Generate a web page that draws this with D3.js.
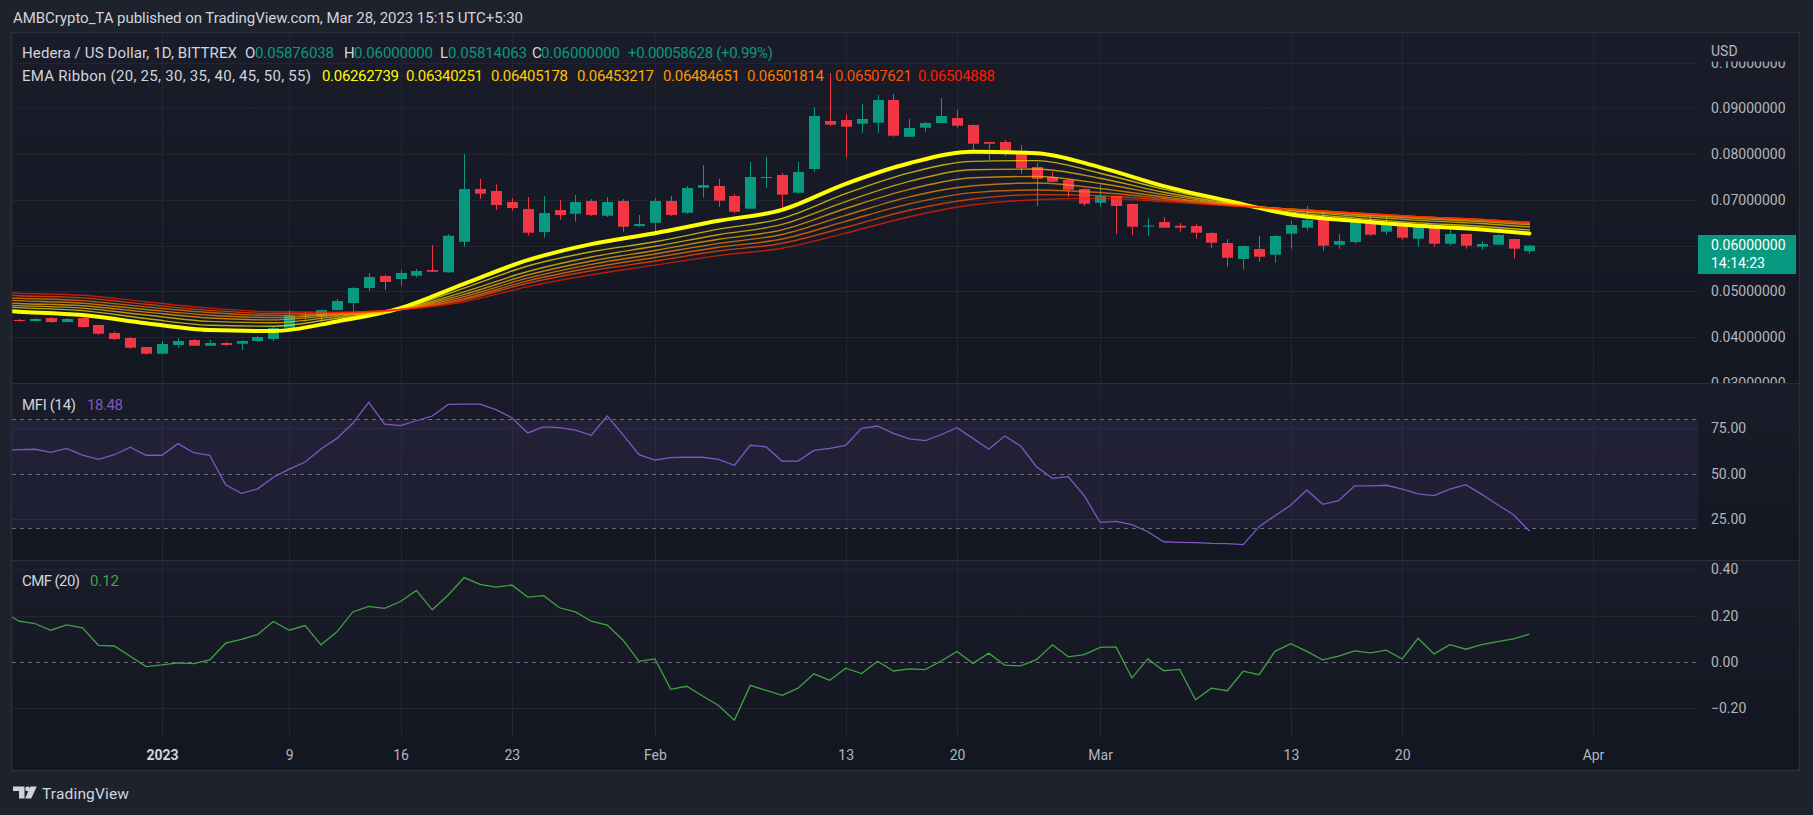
<!DOCTYPE html>
<html>
<head>
<meta charset="utf-8">
<script src="https://cdn.jsdelivr.net/npm/d3@7/dist/d3.min.js"></script>
<style>
html,body{margin:0;padding:0;background:#1e222d;overflow:hidden;}
svg{display:block;}
text{font-family:Roboto,"Noto Sans",Arial,sans-serif;}
</style>
</head>
<body>
<svg id="chart" width="1813" height="815"></svg>
<script>
// ---------------- DATA ----------------
const candleStart = "2022-12-23";   // first visible daily candle
const candleEnd = "2023-03-29";     // exclusive
const open = [
0.04371,0.04349,0.04414,0.04327,0.04414,0.04261,0.04086,0.03977,0.03780,0.03634,
0.03824,0.03933,0.03809,0.03868,0.03852,0.03911,0.03955,0.04202,0.04466,0.04458,
0.04589,0.04742,0.05071,0.05333,0.05267,0.05340,0.05464,0.05414,0.06083,0.07236,
0.07192,0.06951,0.06798,0.06295,0.06776,0.06695,0.06973,0.06652,0.06973,0.06426,
0.06499,0.06973,0.06717,0.07264,0.07301,0.07083,0.06805,0.07487,0.07542,0.07155,
0.07673,0.08723,0.08745,0.08664,0.08686,0.09182,0.08379,0.08576,0.08679,0.08788,
0.08635,0.08264,0.08264,0.08067,0.07717,0.07498,0.07432,0.07236,0.06936,0.07083,
0.06908,0.06426,0.06514,0.06433,0.06426,0.06273,0.06055,0.05705,0.05923,0.05799,
0.06258,0.06389,0.06608,0.06017,0.06077,0.06514,0.06302,0.06492,0.06149,0.06405,
0.06039,0.06252,0.05974,0.06017,0.06142,0.05876];
const high = [
0.04393,0.04414,0.04436,0.04414,0.04443,0.04272,0.04115,0.03999,0.03787,0.03911,
0.03977,0.03955,0.03933,0.03890,0.03933,0.04021,0.04240,0.04589,0.04552,0.04600,
0.04830,0.05093,0.05399,0.05355,0.05464,0.05486,0.06011,0.06245,0.08001,0.07454,
0.07338,0.07032,0.07061,0.07083,0.06995,0.07104,0.07017,0.07061,0.07017,0.06667,
0.07039,0.07083,0.07301,0.07761,0.07454,0.07126,0.07826,0.07935,0.07585,0.07826,
0.09029,0.09772,0.08876,0.09095,0.09291,0.09313,0.08767,0.08700,0.09226,0.08963,
0.08650,0.08270,0.08307,0.08198,0.07804,0.07607,0.07461,0.07250,0.07323,0.07090,
0.06920,0.06601,0.06623,0.06492,0.06470,0.06290,0.06142,0.06000,0.06208,0.06230,
0.06536,0.06864,0.06717,0.06252,0.06550,0.06674,0.06674,0.06500,0.06440,0.06448,
0.06367,0.06260,0.06098,0.06252,0.06150,0.06000];
const low = [
0.04327,0.04338,0.04305,0.04316,0.04202,0.04043,0.03933,0.03747,0.03612,0.03620,
0.03758,0.03800,0.03800,0.03802,0.03715,0.03900,0.03911,0.04202,0.04334,0.04334,
0.04580,0.04568,0.05005,0.05027,0.05114,0.05300,0.05420,0.05405,0.05974,0.07017,
0.06776,0.06761,0.06214,0.06171,0.06564,0.06520,0.06645,0.06623,0.06302,0.06411,
0.06252,0.06645,0.06695,0.07045,0.06842,0.06711,0.06805,0.07264,0.06820,0.07140,
0.07614,0.08613,0.07920,0.08467,0.08467,0.08379,0.08370,0.08489,0.08664,0.08576,
0.08051,0.07870,0.07957,0.07564,0.06864,0.07390,0.07061,0.06864,0.06849,0.06252,
0.06230,0.06214,0.06380,0.06302,0.06149,0.05952,0.05536,0.05471,0.05646,0.05624,
0.05930,0.06324,0.05886,0.05930,0.06039,0.06208,0.06230,0.06127,0.05974,0.05974,
0.05996,0.05930,0.05908,0.06010,0.05711,0.05814];
const close = [
0.04349,0.04393,0.04327,0.04393,0.04218,0.04071,0.03955,0.03765,0.03634,0.03846,
0.03911,0.03809,0.03868,0.03824,0.03911,0.03999,0.04196,0.04473,0.04473,0.04589,
0.04786,0.05071,0.05311,0.05202,0.05399,0.05442,0.05427,0.06214,0.07236,0.07133,
0.06886,0.06820,0.06280,0.06711,0.06667,0.06951,0.06667,0.06951,0.06411,0.06470,
0.06973,0.06667,0.07258,0.07323,0.06980,0.06739,0.07498,0.07498,0.07111,0.07607,
0.08832,0.08642,0.08598,0.08767,0.09182,0.08401,0.08570,0.08679,0.08832,0.08620,
0.08226,0.08226,0.08023,0.07695,0.07461,0.07395,0.07220,0.06914,0.07083,0.06864,
0.06411,0.06437,0.06389,0.06389,0.06280,0.06061,0.05733,0.05989,0.05755,0.06208,
0.06448,0.06558,0.05996,0.06098,0.06536,0.06236,0.06492,0.06171,0.06426,0.06039,
0.06252,0.05996,0.06033,0.06230,0.05930,0.06000];

// EMA ribbon, read at sample dates
const emaDates = ["2022-12-22","2022-12-23","2022-12-27","2022-12-31","2023-01-04","2023-01-08","2023-01-12",
"2023-01-16","2023-01-20","2023-01-24","2023-01-28","2023-02-01","2023-02-05","2023-02-09","2023-02-13",
"2023-02-17","2023-02-21","2023-02-25","2023-03-01","2023-03-05","2023-03-09","2023-03-13","2023-03-17",
"2023-03-21","2023-03-25","2023-03-28"];
const ema20 = [0.0457,0.04552,0.0448,0.0430,0.0415,0.0413,0.0434,0.0463,0.0516,0.0568,0.0603,0.0627,0.0654,0.0678,0.0735,0.0780,0.0805,0.0802,0.0771,0.0730,0.0698,0.0668,0.0654,0.0643,0.0635,0.06262739];
const ema25 = [0.0466,0.04641,0.04575,0.04403,0.04256,0.04235,0.04410,0.0461,0.05070,0.05552,0.05863,0.06081,0.06358,0.06595,0.07134,0.07589,0.07841,0.07857,0.07581,0.07232,0.06953,0.0673,0.0660,0.06496,0.0642,0.06340251];
const ema30 = [0.0470,0.04685,0.04631,0.04479,0.04342,0.04311,0.0445,0.04605,0.04985,0.05431,0.05749,0.05983,0.06236,0.06461,0.06961,0.07402,0.07656,0.07673,0.07472,0.07164,0.0693,0.06763,0.06645,0.0655,0.0648,0.06405178];
const ema35 = [0.0475,0.04733,0.04683,0.04544,0.04414,0.04374,0.0448,0.0460,0.0493,0.05355,0.05662,0.05892,0.06137,0.06343,0.0681,0.07227,0.07482,0.0751,0.07356,0.07113,0.06914,0.06781,0.06679,0.0659,0.06524,0.06453217];
const ema40 = [0.0481,0.04794,0.04739,0.04601,0.04476,0.04424,0.0450,0.0460,0.04883,0.05286,0.05588,0.05815,0.06046,0.06242,0.06659,0.07063,0.07308,0.07367,0.07248,0.07062,0.06901,0.06792,0.0670,0.06616,0.06552,0.06484651];
const ema45 = [0.0486,0.04846,0.04795,0.04657,0.04534,0.04470,0.04516,0.0460,0.0484,0.05228,0.05514,0.05738,0.05962,0.06142,0.06529,0.06911,0.07157,0.07214,0.07159,0.07028,0.0689,0.06797,0.0671,0.0663,0.06568,0.06501814];
const ema50 = [0.0492,0.04903,0.04855,0.04714,0.04582,0.04512,0.0453,0.0460,0.04809,0.05175,0.05447,0.05661,0.05879,0.06049,0.0640,0.06770,0.07018,0.07112,0.07091,0.06994,0.06879,0.06796,0.06713,0.06632,0.06572,0.06507621];
const ema55 = [0.0497,0.04955,0.04911,0.0477,0.0463,0.0455,0.0454,0.0460,0.0477,0.0510,0.0536,0.0557,0.0578,0.0594,0.0627,0.0663,0.0689,0.0700,0.0703,0.0696,0.0687,0.0679,0.0671,0.0663,0.0657,0.06504888];
const emaLegend = ["0.06262739","0.06340251","0.06405178","0.06453217","0.06484651","0.06501814","0.06507621","0.06504888"];

// Oscillators (daily, from 2022-12-22)
const oscStart = "2022-12-22";
const mfi = [63.0,
63.3,63.5,61.8,64.0,60.3,58.0,60.5,64.6,60.2,60.2,
66.6,61.6,60.2,44.0,39.2,41.6,48.1,52.6,56.5,63.7,
69.5,77.8,89.3,77.4,76.5,79.2,81.8,88.2,88.4,88.4,
85.3,80.9,72.5,75.8,75.4,74.1,71.2,81.8,71.4,60.5,
57.6,58.9,59.1,59.1,58.0,54.7,65.7,64.8,56.9,57.0,
62.9,64.0,65.7,75.0,76.3,72.3,69.2,68.3,71.5,75.4,
69.5,63.5,70.8,65.3,53.9,47.5,48.4,38.0,23.3,23.8,
22.0,18.1,12.6,12.3,12.1,11.7,11.6,11.0,20.9,26.9,
32.8,41.1,33.2,35.2,43.3,43.3,43.7,41.6,38.9,38.0,
41.6,44.0,38.7,33.0,27.5,18.48];
const cmf = [0.218,
0.176,0.166,0.137,0.160,0.147,0.072,0.069,0.025,-0.020,-0.013,
-0.004,-0.007,0.009,0.081,0.098,0.118,0.175,0.137,0.157,0.074,
0.130,0.216,0.240,0.231,0.261,0.309,0.225,0.289,0.364,0.335,
0.323,0.332,0.280,0.286,0.234,0.216,0.176,0.159,0.094,0.003,
0.013,-0.118,-0.105,-0.147,-0.188,-0.251,-0.101,-0.123,-0.144,-0.113,
-0.051,-0.079,-0.027,-0.050,0.003,-0.039,-0.030,-0.033,0.004,0.045,
-0.006,0.038,-0.014,-0.017,0.010,0.074,0.022,0.032,0.063,0.065,
-0.069,0.013,-0.038,-0.032,-0.163,-0.113,-0.124,-0.040,-0.055,0.046,
0.079,0.046,0.009,0.025,0.048,0.039,0.051,0.013,0.102,0.035,
0.075,0.055,0.075,0.088,0.100,0.12];

// Axis ticks
const priceTicks = [0.03,0.04,0.05,0.06,0.07,0.08,0.09,0.10];
const mfiTicks = [25,50,75];
const mfiBands = [80,50,20];
const cmfTicks = [-0.2,0,0.2,0.4];
const dateTicks = ["2023-01-01","2023-01-09","2023-01-16","2023-01-23","2023-02-01","2023-02-13","2023-02-20","2023-03-01","2023-03-13","2023-03-20","2023-04-01"];
const dateLabels = ["2023","9","16","23","Feb","13","20","Mar","13","20","Apr"];

// ---------------- STYLE / LAYOUT ----------------
const C = {
  outer:"#1e222d", frame:"#2a2e39", grid:"#232632", text:"#b2b5be", legend:"#d1d4dc",
  up:"#089981", down:"#f23645", mfi:"#7e57c2", cmf:"#43a047", dash:"#787b86"
};
const emaColors = ["#ffff00","#ffe600","#ffcc00","#ffb000","#ff9500","#ff7800","#ff4f00","#ff1a00"];
const L = {x0:12, x1:1799, plotR:1698, top:33, mainB:383.5, mfiT:384.5, mfiB:560, cmfT:561, cmfB:736, bottom:770};

const parse = d3.utcParse("%Y-%m-%d");
const svg = d3.select("#chart");
const defs = svg.append("defs");

const x = d3.scaleUtc().domain([parse("2023-01-01"), parse("2023-04-01")]).range([162, 1593]);
const yP = d3.scaleLinear().domain([0.03, 0.10]).range([382.7, 62.6]);
const yM = d3.scaleLinear().domain([20, 80]).range([528.3, 419.3]);
const yC = d3.scaleLinear().domain([-0.2, 0.4]).range([708.3, 569.3]);

// gradient
const grad = defs.append("linearGradient").attr("id","paneGrad").attr("x1",0).attr("y1",0).attr("x2",0).attr("y2",1);
grad.append("stop").attr("offset","0%").attr("stop-color","#1a1d29");
grad.append("stop").attr("offset","100%").attr("stop-color","#131722");

function clip(id, x0, y0, x1, y1){
  defs.append("clipPath").attr("id", id).append("rect").attr("x",x0).attr("y",y0).attr("width",x1-x0).attr("height",y1-y0);
}
clip("cMain", L.x0, L.top, L.plotR, L.mainB);
clip("cMfi", L.x0, L.mfiT, L.plotR, L.mfiB);
clip("cCmf", L.x0, L.cmfT, L.plotR, L.cmfB);
clip("cPriceAx", L.plotR, 61.5, L.x1, L.mainB);

// backgrounds
svg.append("rect").attr("width",1813).attr("height",815).attr("fill",C.outer);
[[L.top,L.mainB],[L.mfiT,L.mfiB],[L.cmfT,L.cmfB]].forEach(([a,b])=>{
  svg.append("rect").attr("x",L.x0).attr("y",a).attr("width",L.x1-L.x0).attr("height",b-a).attr("fill","url(#paneGrad)");
});
svg.append("rect").attr("x",L.x0).attr("y",L.cmfB).attr("width",L.x1-L.x0).attr("height",L.bottom-L.cmfB).attr("fill","#131722");

// vertical grid
const tickDates = dateTicks.map(parse);
svg.append("g").selectAll("line").data(tickDates).join("line")
  .attr("x1",d=>Math.round(x(d))+0.5).attr("x2",d=>Math.round(x(d))+0.5)
  .attr("y1",L.top).attr("y2",L.cmfB).attr("stroke",C.grid).attr("stroke-width",1);

// horizontal price grid
svg.append("g").attr("clip-path","url(#cMain)").selectAll("line").data(priceTicks).join("line")
  .attr("x1",L.x0).attr("x2",L.plotR).attr("y1",d=>Math.round(yP(d))+0.5).attr("y2",d=>Math.round(yP(d))+0.5)
  .attr("stroke",C.grid);

// MFI band + grid
svg.append("rect").attr("x",L.x0).attr("width",L.plotR-L.x0).attr("y",yM(80)).attr("height",yM(20)-yM(80))
  .attr("fill","rgba(126,87,194,0.10)");
svg.append("g").selectAll("line").data([75,25]).join("line")
  .attr("x1",L.x0).attr("x2",L.plotR).attr("y1",d=>Math.round(yM(d))+0.5).attr("y2",d=>Math.round(yM(d))+0.5)
  .attr("stroke","#2c2c42");
svg.append("g").selectAll("line").data(mfiBands).join("line")
  .attr("x1",L.x0).attr("x2",L.plotR).attr("y1",d=>Math.round(yM(d))+0.5).attr("y2",d=>Math.round(yM(d))+0.5)
  .attr("stroke",C.dash).attr("stroke-dasharray","4,4").attr("stroke-opacity",0.85);

// CMF grid
svg.append("g").selectAll("line").data(cmfTicks.filter(v=>v!==0)).join("line")
  .attr("x1",L.x0).attr("x2",L.plotR).attr("y1",d=>Math.round(yC(d))+0.5).attr("y2",d=>Math.round(yC(d))+0.5)
  .attr("stroke",C.grid);
svg.append("line").attr("x1",L.x0).attr("x2",L.plotR).attr("y1",Math.round(yC(0))+0.5).attr("y2",Math.round(yC(0))+0.5)
  .attr("stroke",C.dash).attr("stroke-dasharray","4,4").attr("stroke-opacity",0.85);

// ---------------- CANDLES ----------------
const days = d3.utcDay.range(parse(candleStart), parse(candleEnd));
const candles = days.map((d,i)=>({date:d, o:open[i], h:high[i], l:low[i], c:close[i]}));
const gC = svg.append("g").attr("clip-path","url(#cMain)");
const bw = 11;
const cg = gC.selectAll("g").data(candles).join("g");
cg.append("line")
  .attr("x1",d=>Math.round(x(d.date))+0.5).attr("x2",d=>Math.round(x(d.date))+0.5)
  .attr("y1",d=>yP(d.h)).attr("y2",d=>yP(d.l))
  .attr("stroke",d=>d.c>=d.o?C.up:C.down).attr("stroke-width",1);
cg.append("rect")
  .attr("x",d=>Math.round(x(d.date))-5).attr("width",bw)
  .attr("y",d=>yP(Math.max(d.o,d.c)))
  .attr("height",d=>Math.max(1, Math.abs(yP(d.o)-yP(d.c))))
  .attr("fill",d=>d.c>=d.o?C.up:C.down);

// ---------------- EMA RIBBON ----------------
const emaSeries = [ema20,ema25,ema30,ema35,ema40,ema45,ema50,ema55];
const eDates = emaDates.map(parse);
const eLine = d3.line().x(d=>x(d[0])).y(d=>yP(d[1])).curve(d3.curveMonotoneX);
const gE = svg.append("g").attr("clip-path","url(#cMain)");
emaSeries.forEach((s,k)=>{
  gE.append("path").attr("d", eLine(eDates.map((d,i)=>[d,s[i]])))
    .attr("fill","none").attr("stroke",emaColors[k])
    .attr("stroke-width",k===0?4:1.4).attr("stroke-opacity",k===0?1:0.72)
    .attr("stroke-linejoin","round").attr("stroke-linecap","round");
});

// ---------------- OSCILLATORS ----------------
const oDays = d3.utcDay.range(parse(oscStart), parse(candleEnd));
svg.append("g").attr("clip-path","url(#cMfi)").append("path")
  .attr("d", d3.line().x((d,i)=>x(oDays[i])).y(d=>yM(d))(mfi))
  .attr("fill","none").attr("stroke",C.mfi).attr("stroke-width",1.3);
svg.append("g").attr("clip-path","url(#cCmf)").append("path")
  .attr("d", d3.line().x((d,i)=>x(oDays[i])).y(d=>yC(d))(cmf))
  .attr("fill","none").attr("stroke",C.cmf).attr("stroke-width",1.3);

// ---------------- AXES ----------------
function styleAxis(g){
  g.select(".domain").remove();
  g.selectAll("line").remove();
  g.selectAll("text").attr("fill",C.text).attr("font-size","14px")
    .attr("font-family","Roboto, 'Noto Sans', sans-serif");
}
svg.append("g").attr("clip-path","url(#cPriceAx)").append("g").attr("transform",`translate(${L.plotR},0)`)
  .call(d3.axisRight(yP).tickValues(priceTicks).tickFormat(d3.format(".8f")).tickSize(0).tickPadding(13))
  .call(styleAxis);
svg.append("g").attr("transform",`translate(${L.plotR},0)`)
  .call(d3.axisRight(yM).tickValues(mfiTicks).tickFormat(d3.format(".2f")).tickSize(0).tickPadding(13))
  .call(styleAxis);
svg.append("g").attr("transform",`translate(${L.plotR},0)`)
  .call(d3.axisRight(yC).tickValues(cmfTicks).tickFormat(d3.format(".2f")).tickSize(0).tickPadding(13))
  .call(styleAxis);
const xAx = svg.append("g").attr("transform",`translate(0,${L.cmfB})`)
  .call(d3.axisBottom(x).tickValues(tickDates).tickFormat((d,i)=>dateLabels[i]).tickSize(0).tickPadding(14))
  .call(styleAxis);
xAx.selectAll("text").filter((d,i)=>i===0).attr("font-weight","bold").attr("fill","#d1d4dc");

svg.append("text").attr("x",1711).attr("y",55.5).attr("fill",C.text).attr("font-size","14px").text("USD");

// last price label
svg.append("rect").attr("x",L.plotR).attr("y",235).attr("width",98).attr("height",39).attr("fill",C.up);
svg.append("text").attr("x",1711).attr("y",250).attr("fill","#ffffff").attr("font-size","14px").text(d3.format(".8f")(close[close.length-1]));
svg.append("text").attr("x",1711).attr("y",268).attr("fill","#ffffff").attr("font-size","14px").text("14:14:23");

// separators + frame
[L.mainB, L.mfiB+0.5].forEach(y=>{
  svg.append("line").attr("x1",L.x0).attr("x2",L.x1).attr("y1",y).attr("y2",y).attr("stroke",C.frame).attr("stroke-width",1.2);
});
svg.append("rect").attr("x",L.x0-0.5).attr("y",L.top-0.5).attr("width",L.x1-L.x0+1).attr("height",L.bottom-L.top+1)
  .attr("fill","none").attr("stroke",C.frame).attr("stroke-width",1.5);

// ---------------- TEXT ----------------
function txt(xp, yp, str, color, size, len){
  const t = svg.append("text").attr("x",xp).attr("y",yp).attr("fill",color).attr("font-size",size+"px").text(str);
  if (len) t.attr("textLength",len).attr("lengthAdjust","spacing");
  return t;
}
txt(13, 23, "AMBCrypto_TA published on TradingView.com, Mar 28, 2023 15:15 UTC+5:30", C.legend, 15, 510);

const fs = 15;
txt(22, 58, "Hedera / US Dollar, 1D, BITTREX", C.legend, fs, 215);
[["O",245,255,"0.05876038"],["H",344,354,"0.06000000"],["L",440,448,"0.05814063"],["C",532,541,"0.06000000"]].forEach(([k,xa,xb,v])=>{
  txt(xa, 58, k, C.legend, fs);
  txt(xb, 58, v, C.up, fs, 79);
});
txt(628, 58, "+0.00058628 (+0.99%)", C.up, fs, 145);

txt(22, 80.5, "EMA Ribbon (20, 25, 30, 35, 40, 45, 50, 55)", C.legend, fs, 289);
const emaX = [322,406,491,577,663,747,835,918];
emaLegend.forEach((v,k)=>txt(emaX[k], 80.5, v, emaColors[k], fs, 77));

txt(22, 409.5, "MFI (14)", C.legend, fs, 54);
txt(87, 409.5, d3.format(".2f")(mfi[mfi.length-1]), C.mfi, fs, 36);
txt(22, 585.5, "CMF (20)", C.legend, fs, 58);
txt(90, 585.5, d3.format(".2f")(cmf[cmf.length-1]), C.cmf, fs, 29);

// footer logo
const lg = svg.append("g").attr("fill","#d1d4dc");
lg.append("path").attr("d","M13,786.5 H24.5 V798.5 H19 V791 H13 Z");
lg.append("circle").attr("cx",27.6).attr("cy",788.9).attr("r",2.4);
lg.append("path").attr("d","M30.5,786.5 H36.8 L31.2,798.5 H25 Z");
txt(42, 798.5, "TradingView", "#d1d4dc", 15.5, 87);
</script>
</body>
</html>
